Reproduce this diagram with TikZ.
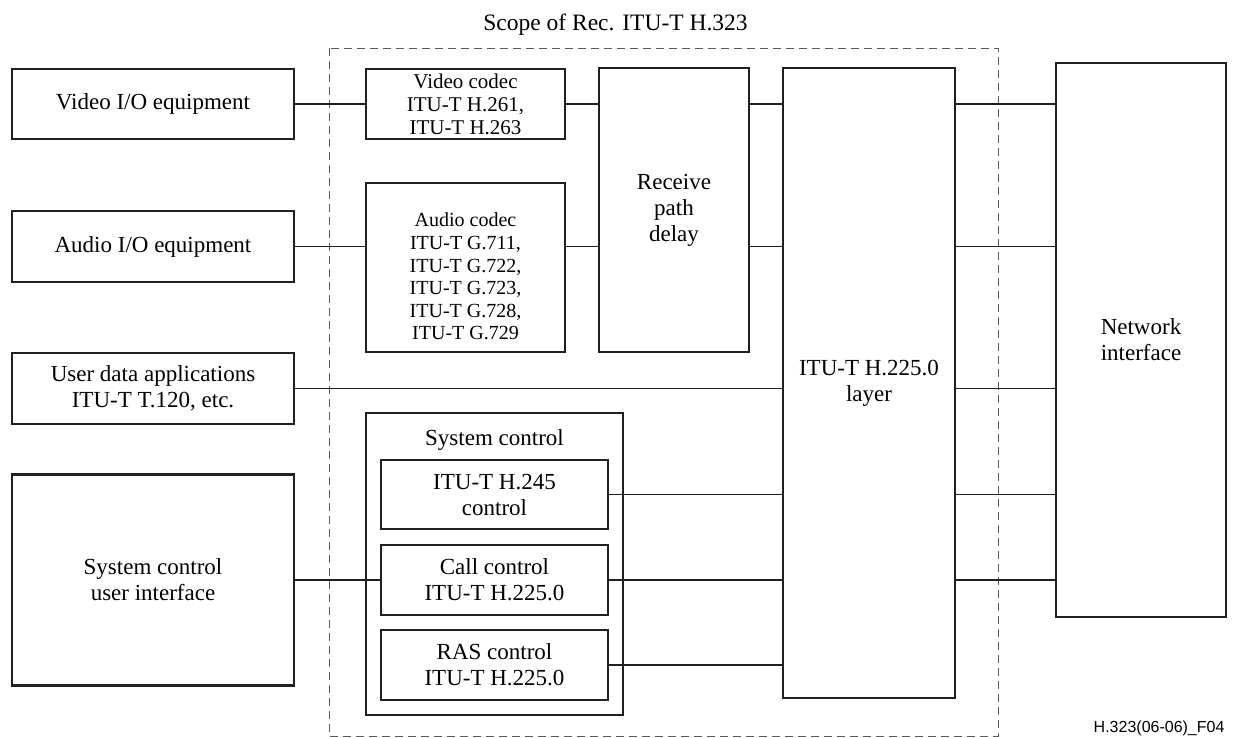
\documentclass[tikz,border=0pt]{standalone}
\usepackage{fontspec}
\setmainfont{Liberation Serif}
\setsansfont{Liberation Sans}
\usetikzlibrary{calc}
\definecolor{boxStroke}{HTML}{231f20}
\definecolor{scopeStroke}{HTML}{5a5a5a}

\begin{document}
\begin{tikzpicture}[
  x=1pt, y=-1pt,
  font=\fontsize{23}{26}\selectfont,
  unit/.style    ={draw=boxStroke, line width=2.8pt, align=center, inner sep=2pt},
  wire/.style    ={draw=boxStroke, line width=1.2pt},
  scopebox/.style={draw=scopeStroke, line width=0.9pt, dash pattern=on 8pt off 5pt},
  vtext/.style   ={align=center, font=\fontsize{21}{23}\selectfont},
  atext/.style   ={align=center, font=\fontsize{20}{22.6}\selectfont},
  tag/.style     ={font=\sffamily\fontsize{16}{18}\selectfont},
]
\useasboundingbox (0,0) rectangle (1233,737);

% ==================== Scope of H.323 ====================
\draw[scopebox] (329,48) rectangle (998,736);
\node[anchor=base, font=\fontsize{23.5}{26}\selectfont] (title) at (615.5,30) {Scope of Rec. ITU-T H.323};

% ==================== Left: equipment ====================
\node[unit, minimum width=282pt, minimum height=70pt]  (vio)  at (153,104)   {Video I/O equipment};
\node[unit, minimum width=282pt, minimum height=71pt]  (aio)  at (153,246.5) {Audio I/O equipment};
\node[unit, minimum width=282pt, minimum height=71pt]  (uda)  at (153,388.5) {User data applications\\ITU-T T.120, etc.};
\node[unit, minimum width=282pt, minimum height=211pt] (scui) at (153,580)   {System control\\user interface};

% ==================== Middle: codecs + delay ====================
\node[unit, vtext, minimum width=199pt, minimum height=70pt] (vcod) at (465.5,104) {Video codec\\ITU-T H.261,\\ITU-T H.263};
\node[unit, minimum width=199pt, minimum height=169pt] (acod) at (465.5,267.5) {};
\node[atext] at ($(acod.center)+(0,9)$) {Audio codec\\ITU-T G.711,\\ITU-T G.722,\\ITU-T G.723,\\ITU-T G.728,\\ITU-T G.729};
\node[unit, minimum width=150pt, minimum height=284pt] (rpd) at (674,210) {Receive\\path\\delay};

% system control group
\node[unit, minimum width=257pt, minimum height=302pt] (sysctl) at (494.5,564) {};
\node[anchor=base] at (494.5,445) {System control};
\node[unit, minimum width=227pt, minimum height=69pt] (h245) at (494.5,494.5) {ITU-T H.245\\control};
\node[unit, minimum width=227pt, minimum height=70pt] (call) at (494.5,580)   {Call control\\ITU-T H.225.0};
\node[unit, minimum width=227pt, minimum height=70pt] (ras)  at (494.5,665)   {RAS control\\ITU-T H.225.0};

% ==================== Right: H.225.0 layer + network ====================
\node[unit, minimum width=172pt, minimum height=630pt] (h225)  at (869,383)  {ITU-T H.225.0\\layer};
\node[unit, minimum width=170pt, minimum height=554pt] (netif) at (1141,340) {Network\\interface};

\node[tag, anchor=base east] (fig) at (1228,732) {H.323(06-06)\_F04};

% ==================== Connectors ====================
\draw[wire] (vio.east) -- (vcod.west);
\draw[wire] (aio.east) -- (aio.east -| acod.west);
\draw[wire] (scui.east) -- (call.west);

% codecs -> delay -> layer
\draw[wire] (vcod.east) -- (vcod.east -| rpd.west);
\draw[wire] (aio.east -| acod.east) -- (aio.east -| rpd.west);
\draw[wire] (vcod.east -| rpd.east) -- (vcod.east -| h225.west);
\draw[wire] (aio.east -| rpd.east) -- (aio.east -| h225.west);

% data + control -> layer
\draw[wire] (uda.east) -- (uda.east -| h225.west);
\foreach \n in {h245,call,ras}
  \draw[wire] (\n.east) -- (\n.east -| h225.west);

% layer -> network interface
\foreach \n in {vio,aio,uda,h245,call}
  \draw[wire] (\n.east -| h225.east) -- (\n.east -| netif.west);

\end{tikzpicture}
\end{document}
